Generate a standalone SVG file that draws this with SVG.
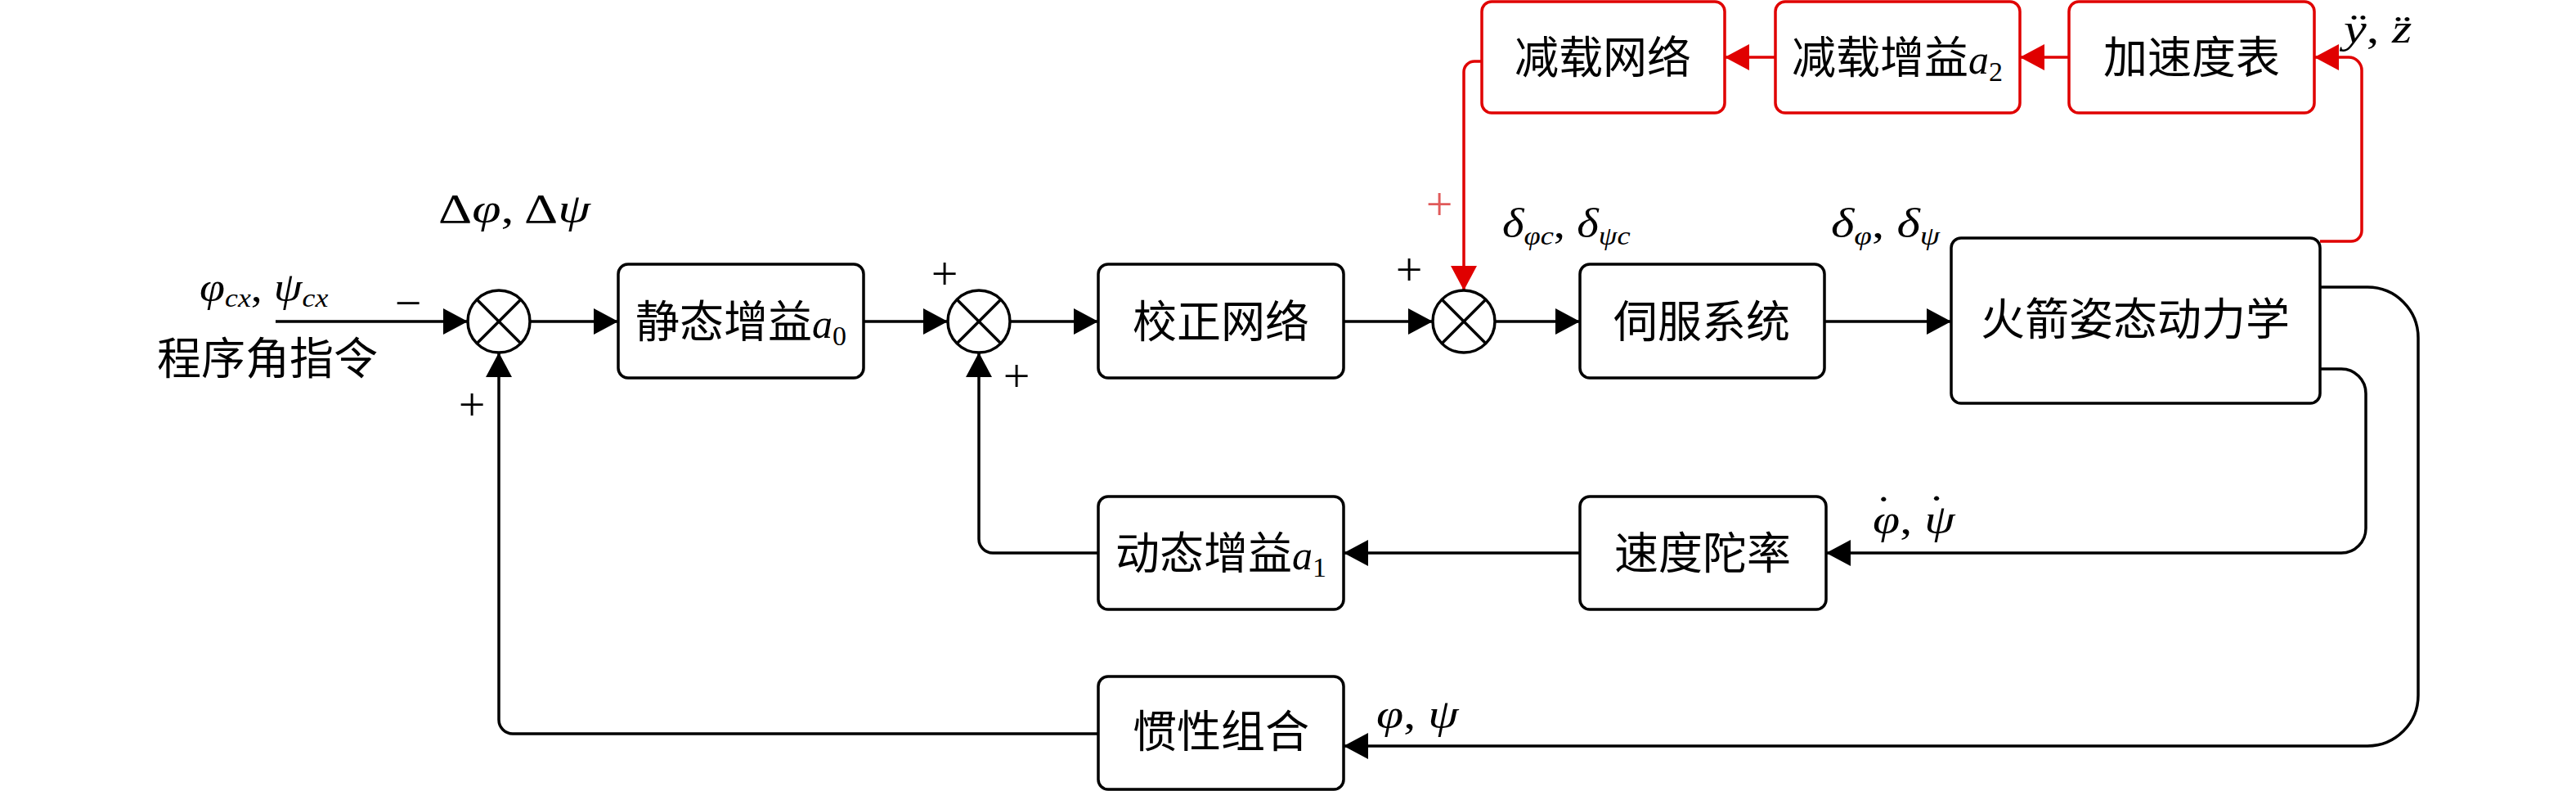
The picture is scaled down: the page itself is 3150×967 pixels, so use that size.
<svg xmlns="http://www.w3.org/2000/svg" width="3150" height="967" viewBox="0 0 3150 967">
<style>
.box{fill:#fff;stroke:#000;stroke-width:3.5}
.rbox{fill:#fff;stroke:#e00000;stroke-width:3.5}
.sum{fill:#fff;stroke:#000;stroke-width:3.5}
.x{stroke:#000;stroke-width:3.5}
.ln{fill:none;stroke:#000;stroke-width:3.5}
.rln{fill:none;stroke:#e00000;stroke-width:3.5}
.cn{font-family:"Liberation Serif","Noto Sans CJK SC",serif;font-size:54px;fill:#000;text-anchor:middle}
.m{font-family:"Liberation Serif",serif;font-style:italic;font-size:50px;fill:#000}
.sub{font-size:32px}
.up{font-style:normal}
.pm{font-family:"Liberation Serif",serif;font-size:58px;fill:#000;text-anchor:middle}
</style>
<defs>
<marker id="ah" viewBox="0 0 30 32" refX="30" refY="16" markerWidth="30" markerHeight="32" markerUnits="userSpaceOnUse" orient="auto"><path d="M0,0 L30,16 L0,32 z" fill="#000"/></marker>
<marker id="rah" viewBox="0 0 30 32" refX="30" refY="16" markerWidth="30" markerHeight="32" markerUnits="userSpaceOnUse" orient="auto"><path d="M0,0 L30,16 L0,32 z" fill="#e00000"/></marker>
</defs>
<rect width="3150" height="967" fill="#fff"/>

<g id="connectors">
<path class="ln" d="M337 393 H572" marker-end="url(#ah)"/>
<path class="ln" d="M648 393 H756" marker-end="url(#ah)"/>
<path class="ln" d="M1056 393 H1159" marker-end="url(#ah)"/>
<path class="ln" d="M1235 393 H1343" marker-end="url(#ah)"/>
<path class="ln" d="M1643 393 H1752" marker-end="url(#ah)"/>
<path class="ln" d="M1828 393 H1932" marker-end="url(#ah)"/>
<path class="ln" d="M2231 393 H2386" marker-end="url(#ah)"/>
<path class="ln" d="M2837 351 H2895 A62 62 0 0 1 2957 413 V850 A62 62 0 0 1 2895 912 H1643" marker-end="url(#ah)"/>
<path class="ln" d="M2837 451 H2863 A30 30 0 0 1 2893 481 V646 A30 30 0 0 1 2863 676 H2233" marker-end="url(#ah)"/>
<path class="ln" d="M1932 676 H1643" marker-end="url(#ah)"/>
<path class="ln" d="M1343 676 H1214 A17 17 0 0 1 1197 659 V431" marker-end="url(#ah)"/>
<path class="ln" d="M1343 897 H627 A17 17 0 0 1 610 880 V431" marker-end="url(#ah)"/>
<path class="rln" d="M2837 295 H2875 A13 13 0 0 0 2888 282 V86 A16 16 0 0 0 2872 70 H2830" marker-end="url(#rah)"/>
<path class="rln" d="M2530 70 H2470" marker-end="url(#rah)"/>
<path class="rln" d="M2171 70 H2109" marker-end="url(#rah)"/>
<path class="rln" d="M1812 75 H1803 A13 13 0 0 0 1790 88 V355" marker-end="url(#rah)"/>
</g>

<g id="sum1">
<circle class="sum" cx="610" cy="393" r="38"/>
<line class="x" x1="583" y1="366" x2="637" y2="420"/>
<line class="x" x1="637" y1="366" x2="583" y2="420"/>
</g>
<g id="sum2">
<circle class="sum" cx="1197" cy="393" r="38"/>
<line class="x" x1="1170" y1="366" x2="1224" y2="420"/>
<line class="x" x1="1224" y1="366" x2="1170" y2="420"/>
</g>
<g id="sum3">
<circle class="sum" cx="1790" cy="393" r="38"/>
<line class="x" x1="1763" y1="366" x2="1817" y2="420"/>
<line class="x" x1="1817" y1="366" x2="1763" y2="420"/>
</g>

<g id="static-gain">
<rect class="box" x="756" y="323" width="300" height="139" rx="12"/>
<text class="cn" x="906" y="413">静态增益<tspan class="m" font-size="56px">a</tspan><tspan font-size="34px" dy="9">0</tspan></text>
</g>
<g id="correction">
<rect class="box" x="1343" y="323" width="300" height="139" rx="12"/>
<text class="cn" x="1493" y="413">校正网络</text>
</g>
<g id="servo">
<rect class="box" x="1932" y="323" width="299" height="139" rx="12"/>
<text class="cn" x="2081" y="413">伺服系统</text>
</g>
<g id="rocket">
<rect class="box" x="2386" y="291" width="451" height="202" rx="12"/>
<text class="cn" x="2611" y="410">火箭姿态动力学</text>
</g>
<g id="unload-net">
<rect class="rbox" x="1812" y="2" width="297" height="136" rx="12"/>
<text class="cn" x="1960" y="90">减载网络</text>
</g>
<g id="unload-gain">
<rect class="rbox" x="2171" y="2" width="299" height="136" rx="12"/>
<text class="cn" x="2320" y="90">减载增益<tspan class="m" font-size="56px">a</tspan><tspan font-size="34px" dy="9">2</tspan></text>
</g>
<g id="accel">
<rect class="rbox" x="2530" y="2" width="300" height="136" rx="12"/>
<text class="cn" x="2680" y="90">加速度表</text>
</g>
<g id="dyn-gain">
<rect class="box" x="1343" y="607" width="300" height="138" rx="12"/>
<text class="cn" x="1493" y="696">动态增益<tspan class="m" font-size="56px">a</tspan><tspan font-size="34px" dy="9">1</tspan></text>
</g>
<g id="rate-gyro">
<rect class="box" x="1932" y="607" width="301" height="138" rx="12"/>
<text class="cn" x="2082" y="696">速度陀率</text>
</g>
<g id="inertial">
<rect class="box" x="1343" y="827" width="300" height="138" rx="12"/>
<text class="cn" x="1493" y="914">惯性组合</text>
</g>

<g id="labels">
<text class="cn" x="327" y="458" font-size="55px">程序角指令</text>
<text class="m" transform="translate(244,368) scale(1.12,1)">φ<tspan class="sub" dy="7">cx</tspan><tspan class="up" dy="-7">, </tspan>ψ<tspan class="sub" dy="7">cx</tspan></text>
<text class="m" transform="translate(536,272) scale(1.28,1)"><tspan class="up">Δ</tspan>φ<tspan class="up">, Δ</tspan>ψ</text>
<text class="m" transform="translate(1837,290) scale(1.14,1)">δ<tspan class="sub" dy="9">φc</tspan><tspan class="up" dy="-9">, </tspan>δ<tspan class="sub" dy="9">ψc</tspan></text>
<text class="m" transform="translate(2239,290) scale(1.22,1)">δ<tspan class="sub" dy="9">φ</tspan><tspan class="up" dy="-9">, </tspan>δ<tspan class="sub" dy="9">ψ</tspan></text>
<text class="m" transform="translate(2866,52) scale(1.25,1)">ÿ<tspan class="up">, </tspan>z̈</text>
<text class="m" transform="translate(2290,652) scale(1.2,1)">φ<tspan class="up">, </tspan>ψ<tspan class="up" x="11" y="-11" text-anchor="middle">˙</tspan><tspan class="up" x="65" y="-12" text-anchor="middle">˙</tspan></text>
<text class="m" transform="translate(1683,890) scale(1.2,1)">φ<tspan class="up">, </tspan>ψ</text>
<text class="pm" x="499" y="390">−</text>
<text class="pm" x="577" y="514">+</text>
<text class="pm" x="1155" y="354">+</text>
<text class="pm" x="1243" y="479">+</text>
<text class="pm" x="1723" y="349">+</text>
<text class="pm" x="1760" y="269" style="fill:#e05a5a">+</text>
</g>
</svg>
